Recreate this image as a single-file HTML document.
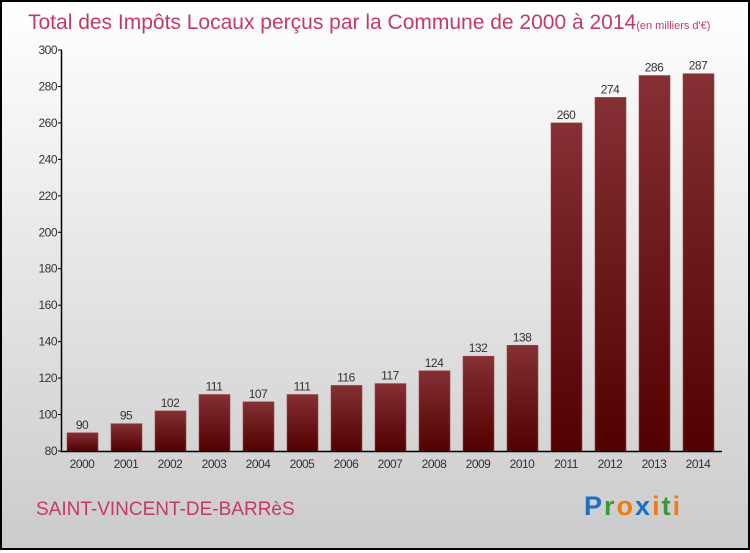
<!DOCTYPE html>
<html><head><meta charset="utf-8"><style>
body{margin:0;width:750px;height:550px;overflow:hidden}
#c{position:absolute;left:0;top:0;width:746px;height:546px;border:2px solid #000;background:linear-gradient(#fff,#f5f5f5 20%,#e0e0e0 60%,#cbcbcb)}
text{font-family:"Liberation Sans",sans-serif}
</style></head><body>
<div id="c">
<svg width="746" height="546" id="s">
<defs><linearGradient id="g" x1="0" y1="0" x2="0" y2="1"><stop offset="0" stop-color="#843034"/><stop offset="1" stop-color="#520000"/></linearGradient></defs>
<text x="26" y="27" font-size="21" fill="#c43a62">Total des Impôts Locaux perçus par la Commune de 2000 à 2014<tspan font-size="11">(en milliers d'€)</tspan></text>
<text x="34" y="513" font-size="19" fill="#c43a62">SAINT-VINCENT-DE-BARRèS</text>
<text x="582" y="513" font-size="27" font-weight="bold" letter-spacing="2"><tspan fill="#1a6fc8">P</tspan><tspan fill="#3a9a3a">r</tspan><tspan fill="#f07a10">o</tspan><tspan fill="#1a6fc8">x</tspan><tspan fill="#f07a10">i</tspan><tspan fill="#3a9a3a">t</tspan><tspan fill="#f07a10">i</tspan></text>
<g id="plot"></g>
</svg></div>
<script>
const years=["2000","2001","2002","2003","2004","2005","2006","2007","2008","2009","2010","2011","2012","2013","2014"];
const values=[90,95,102,111,107,111,116,117,124,132,138,260,274,286,287];
const ticks=[80,100,120,140,160,180,200,220,240,260,280,300];
const NS="http://www.w3.org/2000/svg";
const g=document.getElementById('plot');
const y=v=>449-(v-80)*(401/220);
const x=i=>80+i*44;
function el(t,a,txt){const e=document.createElementNS(NS,t);for(const k in a)e.setAttribute(k,a[k]);if(txt!=null)e.textContent=txt;g.appendChild(e);return e;}
ticks.forEach(t=>{
 const e=el('text',{x:55,y:y(t)+4,'font-size':12,fill:'#333','text-anchor':'end','letter-spacing':'-0.5'},t);
 
 
 const l=el('line',{x1:56,x2:60,y1:y(t),y2:y(t),stroke:'#000'});
 
 
});
values.forEach((v,i)=>{
 const r=el('rect',{x:x(i)-15,y:y(v),width:31,height:y(80)-y(v),fill:'url(#g)',stroke:'#9a4a4e','stroke-width':0.6});
 
 
 const t=el('text',{x:x(i),y:y(v)-4,'font-size':12,fill:'#333','text-anchor':'middle','letter-spacing':'-0.5'},v);
 
 
 const yl=el('text',{x:x(i),y:466,'font-size':12,fill:'#333','text-anchor':'middle','letter-spacing':'-0.5'},years[i]);
 
 
});
const ya=el('line',{x1:59.5,x2:59.5,y1:48,y2:450,stroke:'#000','stroke-width':1.5});


const xa=el('line',{x1:59,x2:720,y1:449.5,y2:449.5,stroke:'#000','stroke-width':1.5});


</script>
</body></html>
